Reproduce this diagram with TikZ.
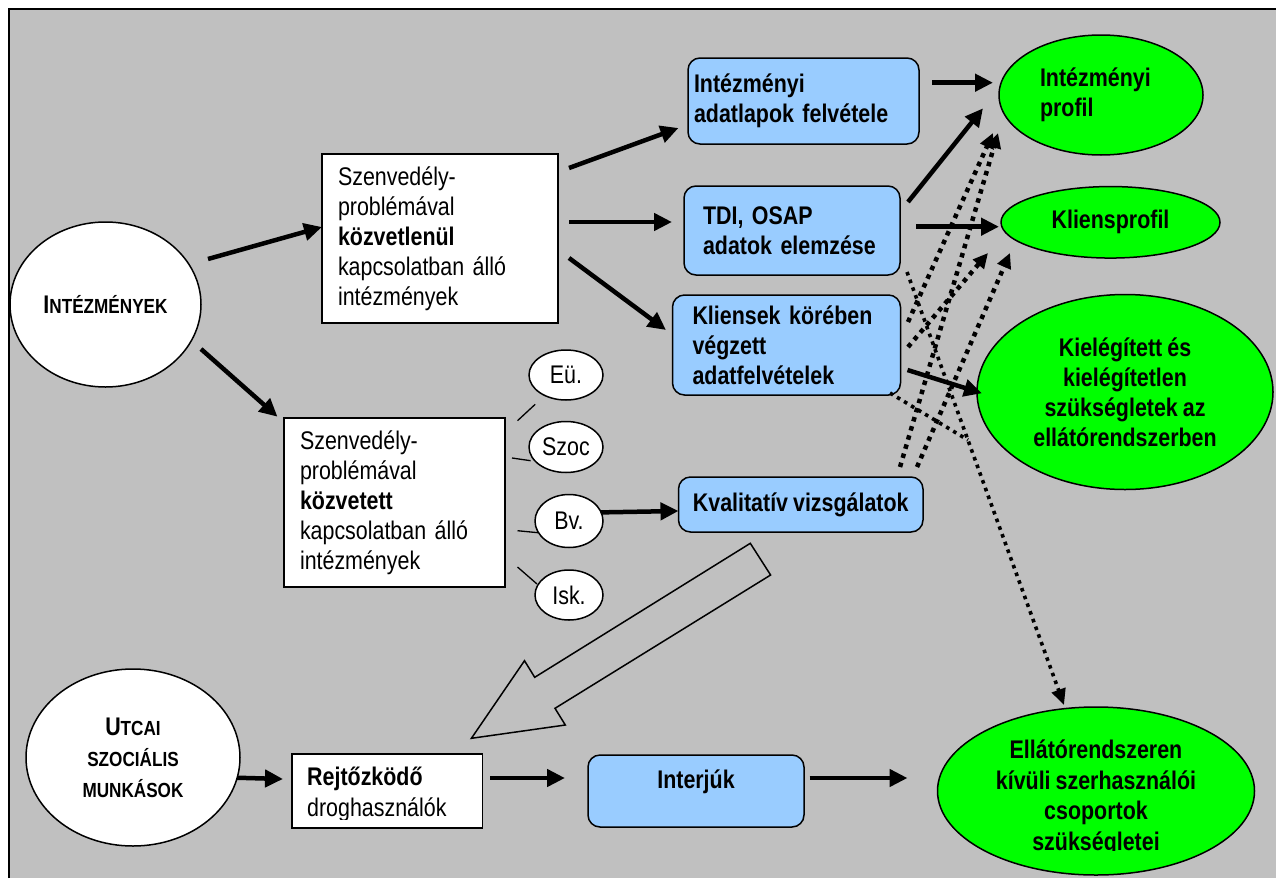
\documentclass[tikz,border=0pt]{standalone}
\usepackage{fontspec}
\setmainfont{Liberation Sans}[FakeStretch=0.84,WordSpace=0.84]
\usetikzlibrary{arrows.meta,shapes.geometric,calc}
\definecolor{bg}{RGB}{192,192,192}
\definecolor{lblue}{RGB}{153,204,255}
\definecolor{lgreen}{RGB}{0,255,0}
\newcommand{\fsa}{\fontsize{25.5}{30}\selectfont}
\newcommand{\fsb}{\fontsize{25.5}{30.5}\selectfont}
\newcommand{\bigc}[1]{{\fontsize{25.5}{30}\selectfont #1}}
\begin{document}
\begin{tikzpicture}[x=1pt,y=-1pt,
  wbox/.style={draw, fill=white, line width=1.5pt, rectangle, inner ysep=0pt, outer sep=0pt, align=left, font=\fsa},
  bbox/.style={draw, fill=lblue, line width=1.5pt, rectangle, rounded corners=12pt, inner ysep=0pt, outer sep=0pt, font=\fsa\bfseries},
  gell/.style={draw, fill=lgreen, ellipse, line width=1.5pt, inner sep=0pt, outer sep=0pt, font=\fsa\bfseries, align=center},
  well/.style={draw, fill=white, ellipse, line width=1.5pt, inner sep=0pt, outer sep=0pt},
  sell/.style={well, font=\fsa},
  arr/.style={line width=4.5pt, -{Triangle[length=18pt,width=17pt]}},
  dotarr/.style={line width=4.5pt, dash pattern=on 4.5pt off 5pt, -{Triangle[length=15pt,width=14pt]}},
  fdot/.style={line width=3.6pt, dash pattern=on 3.6pt off 4.6pt},
  fdotarr/.style={fdot, -{Triangle[length=16pt,width=14pt]}},
  thinl/.style={line width=1.3pt},
  blockarrow/.style={line width=1.5pt, line join=miter}
]
\useasboundingbox (0,0) rectangle (1276,878);
\fill[white] (0,0) rectangle (1276,878);
\fill[bg] (9,9) rectangle (1276,878);
\draw[line width=2pt] (9,878) -- (9,9) -- (1276,9);

% left ellipses
\node[well, minimum width=191pt, minimum height=165pt, font=\bfseries\fontsize{20.4}{25}\selectfont] (int) at (105.5,304.5)
  {\bigc{I}NTÉZMÉNYEK};
\node[well, minimum width=214pt, minimum height=177pt, align=center, font=\bfseries\fontsize{20.4}{31}\selectfont] (utcai) at (133,757.5)
  {\bigc{U}TCAI\\SZOCIÁLIS\\MUNKÁSOK};

% white boxes
\node[wbox, minimum width=236pt, minimum height=169pt, inner xsep=16pt, text width=204pt] (box1) at (440,238.5)
  {Szenvedély-\\problémával\\\textbf{közvetlenül}\\kapcsolatban álló\\intézmények};
\node[wbox, minimum width=221pt, minimum height=169pt, inner xsep=16pt, text width=189pt] (box2) at (394.5,502.5)
  {Szenvedély-\\problémával\\\textbf{közvetett}\\kapcsolatban álló\\intézmények};

% small ellipses
\node[sell, minimum width=74pt, minimum height=50pt] (eu) at (566,375) {Eü.};
\node[sell, minimum width=74pt, minimum height=51pt] (szoc) at (566,447) {Szoc};
\node[sell, minimum width=68pt, minimum height=53pt] (bv) at (569,521) {Bv.};
\node[sell, minimum width=68pt, minimum height=50pt] (isk) at (569,595) {Isk.};

% blue boxes
\node[bbox, minimum width=231pt, minimum height=86pt, inner xsep=6pt, text width=219pt, align=left] (intad) at (803.5,101)
  {Intézményi\\adatlapok felvétele};
\node[bbox, minimum width=216pt, minimum height=89pt, inner xsep=19pt, text width=178pt, align=left] (tdi) at (792,230.5)
  {TDI, OSAP\\adatok elemzése};
\node[bbox, minimum width=228pt, minimum height=100pt, inner xsep=20pt, text width=188pt, align=left] (kli) at (786.5,345)
  {Kliensek körében\\végzett\\adatfelvételek};
\node[bbox, minimum width=244.5pt, minimum height=55pt, inner xsep=0pt] (kval) at (800.75,504.5)
  {Kvalitatív vizsgálatok};
\node[bbox, minimum width=216pt, minimum height=72pt, inner xsep=0pt, text height=18.5pt, text depth=24pt] (interj) at (696,791)
  {Interjúk};

% Rejtőzködő box with clipped text
\node[wbox, minimum width=190.5pt, minimum height=74pt] (rejt) at (387.25,791) {};
\begin{scope}
  \clip (rejt.north west) rectangle ([yshift=9pt]rejt.south east);
  \node[anchor=base west, inner sep=0pt, font=\fsa\bfseries] (rejt1) at (307,785) {Rejtőzködő};
  \node[anchor=base west, inner sep=0pt, font=\fsa] (rejt2) at (307,816) {droghasználók};
\end{scope}

% green ellipses
\node[gell, minimum width=204pt, minimum height=120pt, text width=122pt, align=left] (intprof) at (1101,95)
  {Intézményi\\profil};
\node[gell, minimum width=219pt, minimum height=71.5pt] (kliprof) at (1110.5,222.3) {Kliensprofil};
\node[gell, minimum width=296pt, minimum height=195pt] (kiel) at (1125,392)
  {Kielégített és\\kielégítetlen\\szükségletek az\\ellátórendszerben};
\node[gell, minimum width=317pt, minimum height=168pt] (ellato) at (1096,791) {};
\begin{scope}
  \clip (900,690) rectangle (1290,850);
  \node[inner sep=0pt, align=center, font=\fsb\bfseries] (ellatotext) at (1096,798)
    {Ellátórendszeren\\kívüli szerhasználói\\csoportok\\szükségletei};
\end{scope}

% hollow block arrow
\draw[blockarrow] (471.4,738.3) -- (524.5,660.7) -- (534.7,677.3) -- (750.3,543.3)
  -- (770.6,575) -- (555,708.3) -- (565.3,725) -- cycle;

% thin connector lines to small ellipses
\draw[thinl] ([xshift=12.5pt,yshift=-2.7pt]box2.north east) -- ([xshift=-30.8pt,yshift=-29.3pt]eu.center);
\draw[thinl] ([xshift=7pt,yshift=44.5pt]box2.east) -- ([xshift=-35.4pt,yshift=-13.7pt]szoc.center);
\draw[thinl] ([xshift=12.5pt,yshift=-28.2pt]box2.east) -- ([xshift=-31pt,yshift=-11.7pt]bv.center);
\draw[thinl] ([xshift=12.5pt,yshift=-64.5pt]box2.east) -- ([xshift=-32pt,yshift=11pt]isk.center);

% solid arrows
\draw[arr] ([xshift=7pt,yshift=45.5pt]int.east) -- ([yshift=11.5pt]box1.west);
\draw[arr] ([yshift=-44.5pt]int.east) -- ([xshift=-6.5pt,yshift=1.3pt]box2.north west);
\draw[arr] ([xshift=11pt,yshift=70.5pt]box1.east) -- ([xshift=-9.5pt,yshift=-27pt]intad.west);
\draw[arr] ([xshift=11pt,yshift=16.5pt]box1.east) -- ([xshift=-12pt,yshift=8.5pt]tdi.west);
\draw[arr] ([xshift=11pt,yshift=-19.5pt]box1.east) -- ([xshift=-6.5pt,yshift=15pt]kli.west);
\draw[arr] ([xshift=13pt,yshift=18.3pt]intad.east) -- ([xshift=-6pt,yshift=12.3pt]intprof.west);
\draw[arr] ([xshift=8pt,yshift=28.5pt]tdi.east) -- ([xshift=-16pt,yshift=-13.3pt]intprof.west);
\draw[arr] ([xshift=16pt,yshift=3.8pt]tdi.east) -- ([xshift=-2pt,yshift=-4.4pt]kliprof.west);
\draw[arr] ([xshift=7pt,yshift=-25pt]kli.east) -- ([xshift=5pt,yshift=-1.3pt]kiel.west);
\draw[arr] (bv.15) -- ([yshift=-6.5pt]kval.west);
\draw[arr] (utcai.-11.7) -- ([xshift=-9pt,yshift=12pt]rejt.west);
\draw[arr] ([xshift=7.5pt,yshift=13pt]rejt.east) -- ([xshift=-23pt,yshift=13pt]interj.west);
\draw[arr] ([xshift=5.6pt,yshift=13pt]interj.east) -- ([xshift=-30pt,yshift=13pt]ellato.west);

% dotted arrows
\draw[dotarr] ([xshift=7.5pt,yshift=23pt]kli.east) -- ([xshift=-108pt,yshift=-38pt]intprof.center);
\draw[dotarr] ([xshift=7.5pt,yshift=-2pt]kli.east) -- ([xshift=-122.5pt,yshift=-30.7pt]kliprof.center);
\draw[dotarr] ([xshift=99.25pt,yshift=10pt]kval.north) -- ([xshift=-103pt,yshift=-38pt]intprof.center);
\draw[dotarr] ([xshift=116.25pt,yshift=10pt]kval.north) -- ([xshift=-100.5pt,yshift=-30.7pt]kliprof.center);

\coordinate (d5s) at ([xshift=7pt,yshift=3pt]tdi.south east);
\coordinate (d5e) at ([xshift=-32pt,yshift=2pt]ellato.north);
\coordinate (join) at ($(d5s)!0.388!(d5e)$);
\draw[fdotarr] (d5s) -- (d5e);
\draw[fdot] ([xshift=-10.5pt,yshift=2pt]kli.south east) -- (join);
\end{tikzpicture}
\end{document}
